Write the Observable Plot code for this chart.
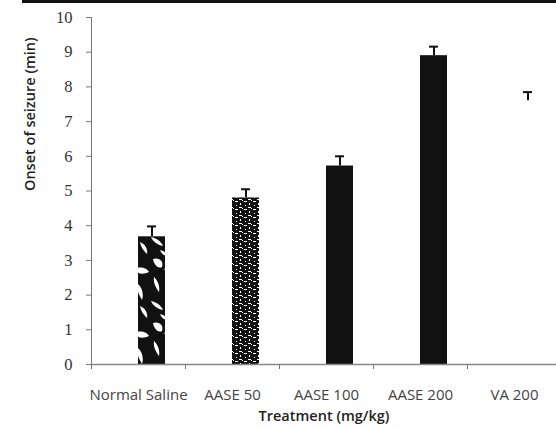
<!DOCTYPE html>
<html><head><meta charset="utf-8">
<script src="https://cdn.jsdelivr.net/npm/d3@7"></script>
<script src="https://cdn.jsdelivr.net/npm/@observablehq/plot@0.6"></script>
<style>
body{margin:0;background:#fff;}
#wrap{position:relative;width:556px;height:429px;overflow:hidden;background:#fff;}
#topline{position:absolute;left:22px;top:0;width:534px;height:3px;background:#111;z-index:2;}
#wrap svg{position:absolute;left:0;top:0;}
</style></head><body><div id="wrap"><div id="topline"></div></div>
<script>
const categories = ["Normal Saline", "AASE 50", "AASE 100", "AASE 200", "VA 200"];
const means = [3.68, 4.8, 5.72, 8.9, 7.6];
const errors = [0.3, 0.25, 0.28, 0.26, 0.25];
const yTicks = [0, 1, 2, 3, 4, 5, 6, 7, 8, 9, 10];
const xTitle = "Treatment (mg/kg)";
const yTitle = "Onset of seizure (min)";

// style only: fill per category
const barFill = {"Normal Saline": "url(#marble)", "AASE 50": "url(#speckle)", "AASE 100": "#111", "AASE 200": "#111", "VA 200": "#fff"};

const data = categories.map((c, i) => ({cat: c, mean: means[i], top: means[i] + errors[i], fill: barFill[c]}));

const sans = "'Open Sans', sans-serif";
const plot = Plot.plot({
  width: 556, height: 429,
  marginTop: 17, marginBottom: 65, marginLeft: 91, marginRight: 0,
  style: {background: "transparent", overflow: "visible"},
  x: {domain: categories, range: [91, 561], padding: 0},
  y: {domain: [0, 10]},
  color: {type: "identity"},
  marks: [
    Plot.barY(data, {x: "cat", y: "mean", fill: "fill", insetLeft: 47, insetRight: 20}),
    Plot.ruleX(data, {x: "cat", y1: "mean", y2: "top", dx: 13.5, stroke: "#111", strokeWidth: 2}),
    Plot.tickY(data, {x: "cat", y: "top", insetLeft: 56, insetRight: 29, stroke: "#111", strokeWidth: 2}),
    Plot.frame({anchor: "left", stroke: "#777"}),
    Plot.frame({anchor: "bottom", stroke: "#888", strokeWidth: 1.5}),
    Plot.axisY({ticks: yTicks, tickSize: 5, tickPadding: 14, label: null, tickFormat: d => String(d),
      fontFamily: "'Liberation Serif', serif", fontSize: 16.5, color: "#333", stroke: "#777"}),
    Plot.axisX({tickSize: 5, tickFormat: () => "", dx: -47, label: null, stroke: "#777"}),
    Plot.axisX({tickSize: 0, tickPadding: 25, label: null, fontFamily: sans, fontSize: 15, color: "#444"}),
    Plot.text([xTitle], {frameAnchor: "bottom", dy: 52, text: d => d, fontFamily: sans, fontSize: 14.5, fontWeight: 600, fill: "#222", lineAnchor: "middle"}),
    Plot.text([yTitle], {frameAnchor: "left", dx: -61, rotate: -90, text: d => d, fontFamily: sans, fontSize: 14.5, fontWeight: 600, fill: "#222", lineAnchor: "middle"})
  ]
});

// patterns
const svg = d3.select(plot);
const defs = svg.insert("defs", ":first-child");
const marble = defs.append("pattern").attr("id", "marble").attr("patternUnits", "userSpaceOnUse")
  .attr("width", 30).attr("height", 64);
marble.append("rect").attr("width", 30).attr("height", 64).attr("fill", "#111");
[
  "M3,3 C9,1 14,5 12,11 C8,13 4,9 3,3Z",
  "M14,13 C20,10 27,12 29,16 C23,19 17,18 14,13Z",
  "M4,21 C8,25 10,30 9,36 C6,32 3,27 4,21Z",
  "M17,27 C22,31 24,38 22,44 C19,39 16,33 17,27Z",
  "M1,45 C6,46 11,49 13,54 C8,53 3,50 1,45Z",
  "M20,50 C25,52 28,57 27,62 C23,58 21,55 20,50Z",
  "M10,58 C14,59 17,61 16,64 C13,63 11,61 10,58Z"
].forEach(d => marble.append("path").attr("d", d).attr("fill", "#fff"));

const speckle = defs.append("pattern").attr("id", "speckle").attr("patternUnits", "userSpaceOnUse")
  .attr("width", 9).attr("height", 8);
speckle.append("rect").attr("width", 9).attr("height", 8).attr("fill", "#111");
[[1, 1, 3, 1], [6, 3, 1, 2], [2, 5, 1, 1], [5, 7, 3, 1], [8, 0, 1, 1]].forEach(([x, y, w, h]) =>
  speckle.append("rect").attr("x", x).attr("y", y).attr("width", w).attr("height", h).attr("fill", "#fff"));

document.getElementById("wrap").appendChild(plot);
</script>
</body></html>
